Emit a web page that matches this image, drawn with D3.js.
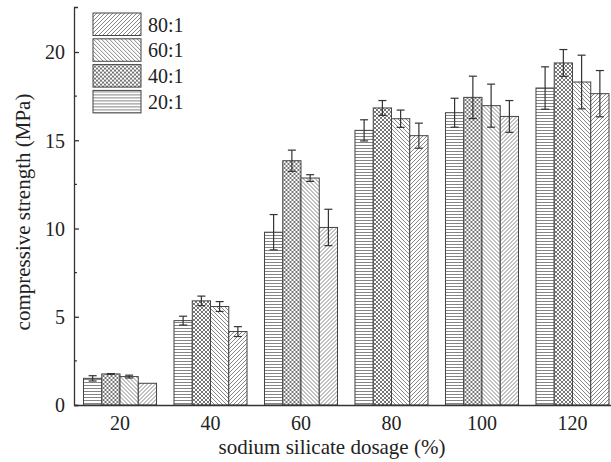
<!DOCTYPE html>
<html>
<head>
<meta charset="utf-8">
<script src="https://cdn.jsdelivr.net/npm/d3@7"></script>
<style>
body { margin: 0; background: #fff; }
text { font-family: "Liberation Serif", "Times New Roman", serif; fill: #222; }
</style>
</head>
<body>
<svg id="chart"></svg>
<script>
// Chart data
const dosage = ["20", "40", "60", "80", "100", "120"];
const ratios = ["20:1", "40:1", "60:1", "80:1"];          // bar order inside a group
const legendOrder = ["80:1", "60:1", "40:1", "20:1"];
const strength20 = [1.51, 4.78, 9.79, 15.56, 16.56, 17.96];
const strength40 = [1.76, 5.90, 13.84, 16.83, 17.43, 19.38];
const strength60 = [1.61, 5.58, 12.86, 16.22, 16.96, 18.30];
const strength80 = [1.23, 4.16, 10.06, 15.26, 16.35, 17.64];
const err20 = [0.15, 0.25, 1.00, 0.60, 0.82, 1.20];
const err40 = [0.02, 0.27, 0.60, 0.42, 1.20, 0.76];
const err60 = [0.08, 0.28, 0.19, 0.49, 1.22, 1.52];
const err80 = [0.00, 0.28, 1.03, 0.71, 0.90, 1.31];
const yTicks = [0, 5, 10, 15, 20];
const yMinor = [2.5, 7.5, 12.5, 17.5];

const values = { "20:1": strength20, "40:1": strength40, "60:1": strength60, "80:1": strength80 };
const errors = { "20:1": err20, "40:1": err40, "60:1": err60, "80:1": err80 };

const width = 611, height = 462;
const svg = d3.select("#chart").attr("width", width).attr("height", height);

// hatch patterns
const defs = svg.append("defs");
const hatch = {
  "20:1": { w: 4, h: 3, d: "M0,1.5 H4", c: "#777" },
  "40:1": { w: 4, h: 4, d: "M-1,1 L1,-1 M0,4 L4,0 M3,5 L5,3 M-1,3 L1,5 M0,0 L4,4 M3,-1 L5,1", c: "#666" },
  "60:1": { w: 4, h: 4, d: "M-1,3 L1,5 M0,0 L4,4 M3,-1 L5,1", c: "#777" },
  "80:1": { w: 4, h: 4, d: "M-1,1 L1,-1 M0,4 L4,0 M3,5 L5,3", c: "#777" }
};
ratios.forEach((r, i) => {
  const p = defs.append("pattern")
    .attr("id", "pat" + i)
    .attr("patternUnits", "userSpaceOnUse")
    .attr("width", hatch[r].w)
    .attr("height", hatch[r].h);
  p.append("rect").attr("width", hatch[r].w).attr("height", hatch[r].h).attr("fill", "#fff");
  p.append("path").attr("d", hatch[r].d).attr("stroke", hatch[r].c).attr("stroke-width", 0.9);
});
const patId = r => "url(#pat" + ratios.indexOf(r) + ")";

// scales
const x0 = d3.scaleBand()
  .domain(dosage)
  .range([74, 618.5])
  .paddingInner(0.193)
  .paddingOuter(0.105);

const x1 = d3.scaleBand()
  .domain(ratios)
  .range([0, x0.bandwidth()]);

const y = d3.scaleLinear()
  .domain([0, 22.55])
  .range([405, 7]);

// bars
const groups = svg.append("g")
  .selectAll("g")
  .data(dosage)
  .join("g")
  .attr("transform", d => `translate(${x0(d)},0)`);

const barData = (d, i) => ratios.map(r => ({ r: r, v: values[r][i], e: errors[r][i] }));

groups.selectAll("rect")
  .data(barData)
  .join("rect")
  .attr("x", d => x1(d.r))
  .attr("y", d => y(d.v))
  .attr("width", x1.bandwidth())
  .attr("height", d => y(0) - y(d.v))
  .attr("fill", d => patId(d.r))
  .attr("stroke", "#444")
  .attr("stroke-width", 1);

// error bars
const eb = groups.selectAll("g.err")
  .data(barData)
  .join("g")
  .attr("class", "err")
  .attr("stroke", "#333")
  .attr("stroke-width", 1.2)
  .filter(d => d.e > 0);

eb.append("line")
  .attr("x1", d => x1(d.r) + x1.bandwidth() / 2)
  .attr("x2", d => x1(d.r) + x1.bandwidth() / 2)
  .attr("y1", d => y(d.v - d.e))
  .attr("y2", d => y(d.v + d.e));
[-1, 1].forEach(s => {
  eb.append("line")
    .attr("x1", d => x1(d.r) + x1.bandwidth() / 2 - 4)
    .attr("x2", d => x1(d.r) + x1.bandwidth() / 2 + 4)
    .attr("y1", d => y(d.v + s * d.e))
    .attr("y2", d => y(d.v + s * d.e));
});

// y axis, ticks pointing inward
const yAxis = svg.append("g")
  .attr("transform", "translate(74,0)")
  .call(d3.axisLeft(y).tickValues(yTicks).tickSizeInner(-5).tickSizeOuter(-4).tickPadding(9));
yAxis.selectAll("text").style("font-size", "20px").attr("dy", "0.34em");
yAxis.selectAll("path, line").attr("stroke", "#333").attr("stroke-width", 1.3);

svg.append("g")
  .selectAll("line")
  .data(yMinor)
  .join("line")
  .attr("x1", 74).attr("x2", 77)
  .attr("y1", d => y(d)).attr("y2", d => y(d))
  .attr("stroke", "#333").attr("stroke-width", 1.2);

// x axis
const xAxis = svg.append("g")
  .attr("transform", `translate(0,${y(0)})`)
  .call(d3.axisBottom(x0).tickSize(0).tickPadding(11));
xAxis.selectAll("text").style("font-size", "20px");
xAxis.select(".domain").attr("stroke", "#333").attr("stroke-width", 1.3);

// axis titles
svg.append("text")
  .attr("x", 332).attr("y", 454)
  .attr("text-anchor", "middle")
  .style("font-size", "21px")
  .text("sodium silicate dosage (%)");

svg.append("text")
  .attr("transform", "translate(30,212) rotate(-90)")
  .attr("text-anchor", "middle")
  .style("font-size", "21px")
  .text("compressive strength (MPa)");

// legend
const legend = svg.append("g")
  .selectAll("g")
  .data(legendOrder)
  .join("g")
  .attr("transform", (d, i) => `translate(93,${13 + i * 25.8})`);

legend.append("rect")
  .attr("width", 48).attr("height", 22.5)
  .attr("fill", d => patId(d))
  .attr("stroke", "#444").attr("stroke-width", 1);

legend.append("text")
  .attr("x", 55).attr("y", 11.5)
  .attr("dy", "0.35em")
  .style("font-size", "20px")
  .text(d => d);
</script>
</body>
</html>
